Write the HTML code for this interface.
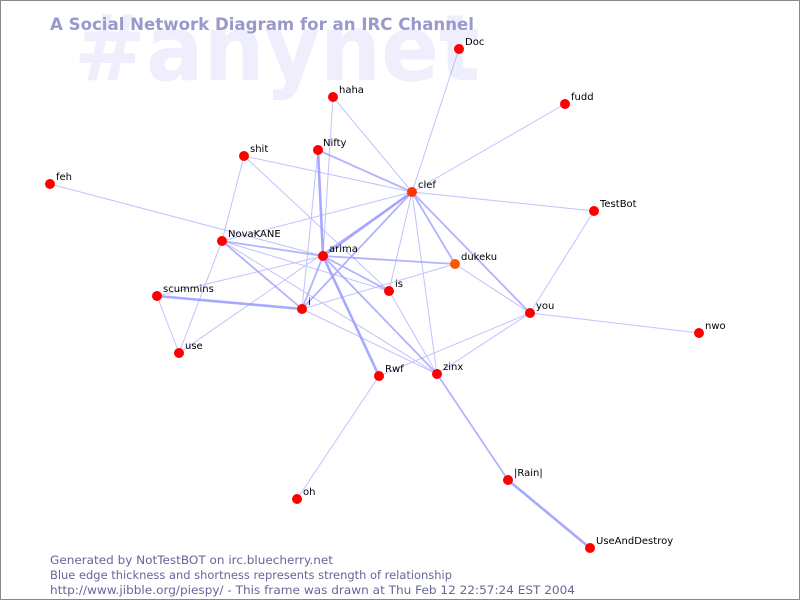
<!DOCTYPE html>
<html><head><style>
html,body{margin:0;padding:0;background:#fff}
svg{display:block}
text{font-family:"DejaVu Sans","Liberation Sans",sans-serif}
</style></head><body>
<svg width="800" height="600" viewBox="0 0 800 600">
<rect x="0.5" y="0.5" width="799" height="599" fill="#fff" stroke="#888"/>
<text x="74" y="80" font-size="92" font-weight="bold" fill="#eeeefc" font-family="Liberation Sans,sans-serif" textLength="406" lengthAdjust="spacingAndGlyphs">#anynet</text>
<text x="50" y="30" font-size="17" font-weight="bold" fill="#9999cc" textLength="424" lengthAdjust="spacingAndGlyphs">A Social Network Diagram for an IRC Channel</text>
<g stroke="#9999ff" stroke-linecap="round" fill="none">
<g stroke-width="1" opacity="0.6">
<line x1="459" y1="49" x2="412" y2="192"/>
<line x1="565" y1="104" x2="412" y2="192"/>
<line x1="333" y1="97" x2="323" y2="256"/>
<line x1="333" y1="97" x2="412" y2="192"/>
<line x1="318" y1="150" x2="302" y2="309"/>
<line x1="244" y1="156" x2="412" y2="192"/>
<line x1="244" y1="156" x2="222" y2="241"/>
<line x1="244" y1="156" x2="389" y2="291"/>
<line x1="50" y1="184" x2="323" y2="256"/>
<line x1="412" y1="192" x2="222" y2="241"/>
<line x1="412" y1="192" x2="389" y2="291"/>
<line x1="412" y1="192" x2="594" y2="211"/>
<line x1="412" y1="192" x2="437" y2="374"/>
<line x1="412" y1="192" x2="179" y2="353"/>
<line x1="222" y1="241" x2="389" y2="291"/>
<line x1="222" y1="241" x2="437" y2="374"/>
<line x1="222" y1="241" x2="179" y2="353"/>
<line x1="323" y1="256" x2="157" y2="296"/>
<line x1="157" y1="296" x2="179" y2="353"/>
<line x1="302" y1="309" x2="455" y2="264"/>
<line x1="302" y1="309" x2="437" y2="374"/>
<line x1="530" y1="313" x2="594" y2="211"/>
<line x1="530" y1="313" x2="699" y2="333"/>
<line x1="530" y1="313" x2="455" y2="264"/>
<line x1="530" y1="313" x2="379" y2="376"/>
<line x1="530" y1="313" x2="437" y2="374"/>
<line x1="379" y1="376" x2="297" y2="499"/>
<line x1="389" y1="291" x2="437" y2="374"/>
</g>
<g stroke-width="1.8" opacity="0.75">
<line x1="412" y1="192" x2="455" y2="264"/>
<line x1="412" y1="192" x2="302" y2="309"/>
<line x1="412" y1="192" x2="530" y2="313"/>
<line x1="318" y1="150" x2="412" y2="192"/>
<line x1="222" y1="241" x2="323" y2="256"/>
<line x1="222" y1="241" x2="302" y2="309"/>
<line x1="323" y1="256" x2="455" y2="264"/>
<line x1="323" y1="256" x2="389" y2="291"/>
<line x1="323" y1="256" x2="302" y2="309"/>
<line x1="323" y1="256" x2="437" y2="374"/>
<line x1="437" y1="374" x2="508" y2="480"/>
</g>
<g stroke-width="2.6" opacity="0.85">
<line x1="412" y1="192" x2="323" y2="256"/>
<line x1="318" y1="150" x2="323" y2="256"/>
<line x1="323" y1="256" x2="379" y2="376"/>
<line x1="157" y1="296" x2="302" y2="309"/>
<line x1="508" y1="480" x2="590" y2="548"/>
</g>
</g>
<g fill="#ff0000">
<circle cx="459" cy="49" r="5"/><circle cx="333" cy="97" r="5"/><circle cx="565" cy="104" r="5"/>
<circle cx="318" cy="150" r="5"/><circle cx="244" cy="156" r="5"/><circle cx="50" cy="184" r="5"/>
<circle cx="412" cy="192" r="5" fill="#ff3300"/><circle cx="594" cy="211" r="5"/><circle cx="222" cy="241" r="5"/>
<circle cx="323" cy="256" r="5"/><circle cx="455" cy="264" r="5" fill="#ff5500"/><circle cx="389" cy="291" r="5"/>
<circle cx="157" cy="296" r="5"/><circle cx="302" cy="309" r="5"/><circle cx="530" cy="313" r="5"/>
<circle cx="699" cy="333" r="5"/><circle cx="179" cy="353" r="5"/><circle cx="379" cy="376" r="5"/>
<circle cx="437" cy="374" r="5"/><circle cx="508" cy="480" r="5"/><circle cx="297" cy="499" r="5"/>
<circle cx="590" cy="548" r="5"/>
</g>
<g font-size="10" fill="#000">
<text x="465" y="45">Doc</text><text x="339" y="93">haha</text><text x="571" y="100">fudd</text>
<text x="323" y="146">Nifty</text><text x="250" y="152">shit</text><text x="56" y="180">feh</text>
<text x="418" y="188">clef</text><text x="600" y="207">TestBot</text><text x="228" y="237">NovaKANE</text>
<text x="329" y="252">arima</text><text x="461" y="260">dukeku</text><text x="395" y="287">is</text>
<text x="163" y="292">scummins</text><text x="308" y="305">i</text><text x="536" y="309">you</text>
<text x="705" y="329">nwo</text><text x="185" y="349">use</text><text x="385" y="372">Rwf</text>
<text x="443" y="370">zinx</text><text x="514" y="476">|Rain|</text><text x="303" y="495">oh</text>
<text x="596" y="544">UseAndDestroy</text>
</g>
<g font-size="11.5" fill="#666699">
<text x="50" y="564" textLength="283" lengthAdjust="spacingAndGlyphs">Generated by NotTestBOT on irc.bluecherry.net</text>
<text x="50" y="579" textLength="402" lengthAdjust="spacingAndGlyphs">Blue edge thickness and shortness represents strength of relationship</text>
<text x="50" y="594" textLength="525" lengthAdjust="spacingAndGlyphs">http://www.jibble.org/piespy/ - This frame was drawn at Thu Feb 12 22:57:24 EST 2004</text>
</g>
</svg>
</body></html>
